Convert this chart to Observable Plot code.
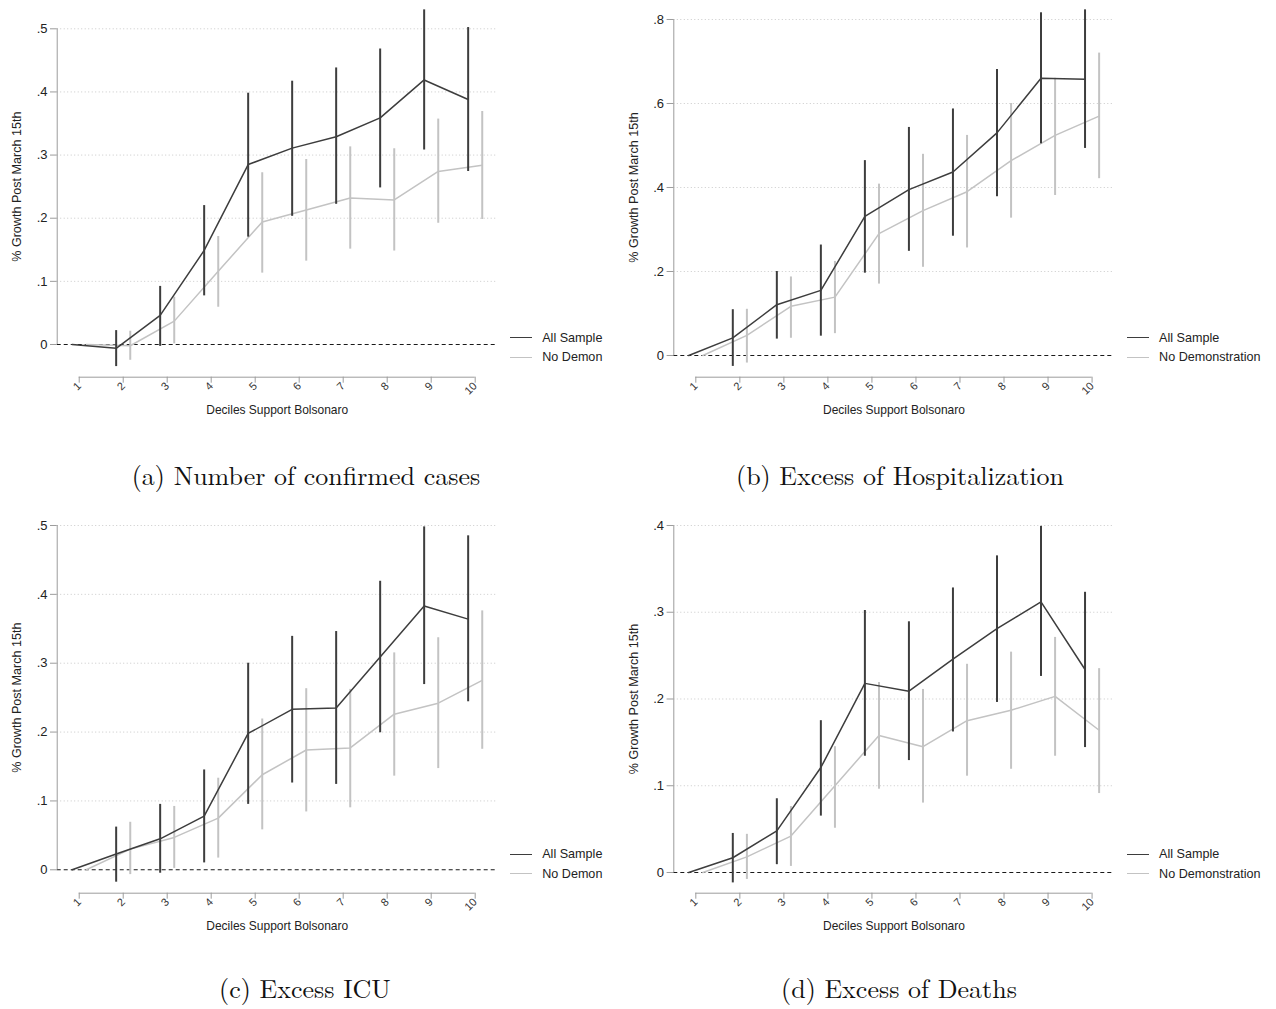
<!DOCTYPE html>
<html><head><meta charset="utf-8">
<script src="https://cdn.jsdelivr.net/npm/d3@7"></script>
<script src="https://cdn.jsdelivr.net/npm/@observablehq/plot@0.6"></script>
<style>
body{margin:0;background:#fff;}
#root{position:relative;width:1276px;height:1009px;overflow:hidden;font-family:"Liberation Sans",Arial,sans-serif;background:#fff;}
.panel{position:absolute;}
.panel g[aria-label="y-axis tick label"]{font-size:13px;}
.panel g[aria-label="x-axis tick label"]{font-size:11px;}
.legend-item{position:absolute;white-space:nowrap;font-size:12.6px;color:#222;line-height:14px;height:14px;}
.swatch{position:absolute;height:0;}
.caption{position:absolute;font-family:"Latin Modern Roman","CMU Serif","Liberation Serif",serif;font-size:26px;line-height:26px;white-space:nowrap;transform:translateX(-50%);color:#111;}
</style></head><body><div id="root"></div>
<script>
// ---------- data ----------
const deciles = [1, 2, 3, 4, 5, 6, 7, 8, 9, 10];
const xLabel = "Deciles Support Bolsonaro";
const yLabel = "% Growth Post March 15th";
const seriesAll = "All Sample";

// (a) Number of confirmed cases
const casesAll    = [0, -0.006, 0.046, 0.149, 0.285, 0.311, 0.329, 0.359, 0.419, 0.388];
const casesAllLo  = [null, -0.035, -0.003, 0.077, 0.170, 0.203, 0.222, 0.248, 0.308, 0.274];
const casesAllHi  = [null, 0.022, 0.092, 0.220, 0.398, 0.417, 0.438, 0.468, 0.530, 0.502];
const casesNo     = [0, -0.002, 0.037, 0.116, 0.194, 0.213, 0.232, 0.229, 0.274, 0.284];
const casesNoLo   = [null, -0.025, 0.001, 0.059, 0.113, 0.132, 0.151, 0.148, 0.192, 0.198];
const casesNoHi   = [null, 0.021, 0.075, 0.171, 0.272, 0.293, 0.313, 0.310, 0.357, 0.369];
const casesTicks  = [0, 0.1, 0.2, 0.3, 0.4, 0.5];

// (b) Excess of Hospitalization
const hospAll     = [0, 0.042, 0.121, 0.155, 0.331, 0.395, 0.437, 0.530, 0.660, 0.658];
const hospAllLo   = [null, -0.026, 0.039, 0.046, 0.196, 0.248, 0.284, 0.378, 0.504, 0.493];
const hospAllHi   = [null, 0.109, 0.200, 0.263, 0.464, 0.543, 0.587, 0.681, 0.816, 0.823];
const hospNo      = [0, 0.048, 0.117, 0.139, 0.290, 0.345, 0.390, 0.464, 0.524, 0.570];
const hospNoLo    = [null, -0.018, 0.041, 0.052, 0.170, 0.210, 0.256, 0.327, 0.381, 0.421];
const hospNoHi    = [null, 0.110, 0.187, 0.224, 0.408, 0.479, 0.524, 0.600, 0.660, 0.720];
const hospTicks   = [0, 0.2, 0.4, 0.6, 0.8];

// (c) Excess ICU
const icuAll      = [0, 0.023, 0.045, 0.078, 0.198, 0.233, 0.235, 0.309, 0.383, 0.364];
const icuAllLo    = [null, -0.018, -0.005, 0.010, 0.095, 0.126, 0.124, 0.199, 0.269, 0.244];
const icuAllHi    = [null, 0.062, 0.095, 0.145, 0.300, 0.339, 0.346, 0.419, 0.498, 0.485];
const icuNo       = [0, 0.030, 0.047, 0.075, 0.138, 0.174, 0.177, 0.226, 0.242, 0.275];
const icuNoLo     = [null, -0.007, 0.002, 0.017, 0.058, 0.084, 0.090, 0.136, 0.147, 0.175];
const icuNoHi     = [null, 0.069, 0.092, 0.133, 0.219, 0.263, 0.262, 0.315, 0.337, 0.376];
const icuTicks    = [0, 0.1, 0.2, 0.3, 0.4, 0.5];

// (d) Excess of Deaths
const deathAll    = [0, 0.017, 0.048, 0.121, 0.218, 0.209, 0.246, 0.281, 0.312, 0.234];
const deathAllLo  = [null, -0.012, 0.009, 0.065, 0.134, 0.129, 0.162, 0.196, 0.226, 0.144];
const deathAllHi  = [null, 0.045, 0.085, 0.175, 0.302, 0.289, 0.328, 0.365, 0.399, 0.323];
const deathNo     = [0, 0.018, 0.042, 0.100, 0.158, 0.145, 0.175, 0.187, 0.203, 0.164];
const deathNoLo   = [null, -0.008, 0.007, 0.051, 0.096, 0.080, 0.111, 0.119, 0.134, 0.091];
const deathNoHi   = [null, 0.044, 0.076, 0.145, 0.219, 0.211, 0.240, 0.254, 0.271, 0.235];
const deathTicks  = [0, 0.1, 0.2, 0.3, 0.4];

// ---------- styling / layout ----------
const DARK = "#3d3d3d", LIGHT = "#c3c3c3", AXIS = "#9c9c9c";
const OFF = 0.16;
const fmt = d => d === 0 ? "0" : d3.format(".1f")(d).replace(/^0/, "").replace(/^-0/, "-");

const panels = [
  {cap: "(a) Number of confirmed cases", noLabel: "No Demon", left: 0, top: 0, width: 500, mL: 56.7, mR: 3.3,
   topY: 28.3, zeroY: 344, axisY: 376.7, ticks: casesTicks,
   all: [casesAll, casesAllLo, casesAllHi], no: [casesNo, casesNoLo, casesNoHi], capX: 306, capY: 462},
  {cap: "(b) Excess of Hospitalization", noLabel: "No Demonstration", left: 620, top: 0, width: 497, mL: 53.3, mR: 3.4,
   topY: 19, zeroY: 355, axisY: 376.7, ticks: hospTicks,
   all: [hospAll, hospAllLo, hospAllHi], no: [hospNo, hospNoLo, hospNoHi], capX: 900, capY: 462},
  {cap: "(c) Excess ICU", noLabel: "No Demon", left: 0, top: 490, width: 500, mL: 56.7, mR: 3.3,
   topY: 525, zeroY: 869.3, axisY: 892.7, ticks: icuTicks,
   all: [icuAll, icuAllLo, icuAllHi], no: [icuNo, icuNoLo, icuNoHi], capX: 305, capY: 975},
  {cap: "(d) Excess of Deaths", noLabel: "No Demonstration", left: 620, top: 490, width: 497, mL: 53.3, mR: 3.4,
   topY: 525, zeroY: 872, axisY: 892.7, ticks: deathTicks,
   all: [deathAll, deathAllLo, deathAllHi], no: [deathNo, deathNoLo, deathNoHi], capX: 899, capY: 975}
];

const root = document.getElementById("root");

for (const p of panels) {
  const ymax = d3.max(p.ticks);
  const lo = -ymax * (p.axisY - p.zeroY) / (p.zeroY - p.topY);
  const marginTop = p.topY - p.top;
  const marginBottom = 60;
  const height = (p.axisY - p.top) + marginBottom;
  const xmin = deciles[0] - 0.5, xmax = deciles[deciles.length - 1] + 0.5;
  const xmid = (deciles[0] + deciles[deciles.length - 1]) / 2;
  const rows = (arr, off) => deciles.map((d, i) => ({x: d + off, y: arr[0][i], lo: arr[1][i], hi: arr[2][i]}));
  const all = rows(p.all, -OFF), no = rows(p.no, OFF);

  const chart = Plot.plot({
    width: p.width, height, marginLeft: p.mL, marginRight: p.mR, marginTop, marginBottom,
    style: {fontFamily: "'Liberation Sans', Arial, sans-serif", fontSize: "12px", color: "#222", background: "transparent", overflow: "visible"},
    x: {domain: [xmin, xmax]},
    y: {domain: [lo, ymax]},
    marks: [
      Plot.ruleY(p.ticks.filter(t => t !== 0), {stroke: "#c9c9c9", strokeDasharray: "1,2.5", strokeWidth: 1}),
      Plot.ruleY([0], {stroke: "#1a1a1a", strokeDasharray: "4,3", strokeWidth: 1.1}),
      Plot.ruleX([{x: xmin, y1: 0, y2: ymax}], {x: "x", y1: "y1", y2: "y2", stroke: AXIS}),
      Plot.ruleY([{y: lo, x1: deciles[0], x2: deciles[deciles.length - 1]}], {y: "y", x1: "x1", x2: "x2", stroke: AXIS}),
      Plot.axisY({ticks: p.ticks, tickFormat: fmt, tickSize: 6.7, tickPadding: 3, label: null, stroke: AXIS, fill: "#222", fontSize: 13}),
      Plot.axisX({ticks: deciles, tickFormat: d => String(d), tickRotate: -45, tickSize: 6, tickPadding: 1,
        stroke: AXIS, fill: "#333", fontSize: 11, label: null}),
      Plot.text([xLabel], {x: () => xmid, frameAnchor: "bottom", dy: 36.5, fontSize: 12, fill: "#222"}),
      Plot.text([yLabel], {x: () => xmin, y: () => ymax / 2, rotate: -90, dx: -40, fontSize: 12.6, fill: "#222"}),
      Plot.ruleX(no.filter(d => d.lo != null), {x: "x", y1: "lo", y2: "hi", stroke: LIGHT, strokeWidth: 2}),
      Plot.line(no, {x: "x", y: "y", stroke: LIGHT, strokeWidth: 1.5}),
      Plot.ruleX(all.filter(d => d.lo != null), {x: "x", y1: "lo", y2: "hi", stroke: DARK, strokeWidth: 2}),
      Plot.line(all, {x: "x", y: "y", stroke: DARK, strokeWidth: 1.5})
    ]
  });
  const wrap = document.createElement("div");
  wrap.className = "panel";
  wrap.style.left = p.left + "px";
  wrap.style.top = p.top + "px";
  wrap.appendChild(chart);
  root.appendChild(wrap);

  // legend
  const legX = p.left + p.width - p.mR + 13;
  const y1 = p.top === 0 ? 338 : 854.3;
  [[seriesAll, DARK, y1], [p.noLabel, LIGHT, y1 + 19.3]].forEach(([label, color, cy]) => {
    const sw = document.createElement("div");
    sw.className = "swatch";
    sw.style.left = legX + "px";
    sw.style.width = "22px";
    sw.style.top = (cy - 0.7) + "px";
    sw.style.borderTop = `1.5px solid ${color}`;
    root.appendChild(sw);
    const t = document.createElement("div");
    t.className = "legend-item";
    t.textContent = label;
    t.style.left = (legX + 32.5) + "px";
    t.style.top = (cy - 7) + "px";
    root.appendChild(t);
  });

  const cap = document.createElement("div");
  cap.className = "caption";
  cap.textContent = p.cap;
  cap.style.left = p.capX + "px";
  cap.style.top = p.capY + "px";
  root.appendChild(cap);
}
</script></body></html>
